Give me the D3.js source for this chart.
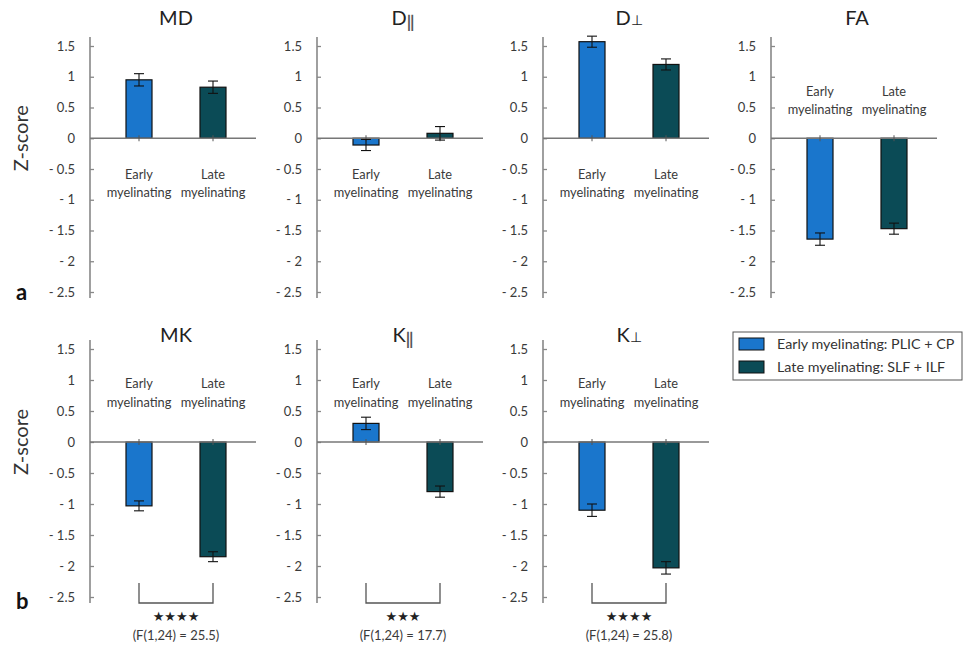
<!DOCTYPE html>
<html>
<head>
<meta charset="utf-8">
<script src="https://cdn.jsdelivr.net/npm/d3@7"></script>
<style>
  body { margin: 0; background: #fff; }
  svg text { font-family: Lato, "Open Sans", sans-serif; }
</style>
</head>
<body>
<svg id="chart" width="971" height="646"></svg>
<script>
// data
const panelTitles = [["MD", ""], ["D", "‖"], ["D", "⊥"], ["FA", ""], ["MK", ""], ["K", "‖"], ["K", "⊥"]];
const categories = ["Early", "Late"];
const earlyValues = [0.95, -0.11, 1.57, -1.64, -1.03, 0.30, -1.10];
const earlyErrors = [0.10, 0.09, 0.09, 0.10, 0.08, 0.10, 0.10];
const lateValues = [0.83, 0.08, 1.20, -1.47, -1.85, -0.80, -2.03];
const lateErrors = [0.10, 0.11, 0.09, 0.09, 0.08, 0.09, 0.10];
const yTicks = [1.5, 1, 0.5, 0, -0.5, -1, -1.5, -2, -2.5];
const stars = [null, null, null, null, "★★★★", "★★★", "★★★★"];
const fStats = [null, null, null, null, "(F(1,24) = 25.5)", "(F(1,24) = 17.7)", "(F(1,24) = 25.8)"];
const legendLabels = ["Early myelinating: PLIC + CP", "Late myelinating: SLF + ILF"];

const colors = { Early: "#1a76cc", Late: "#0b4b56" };

const svg = d3.select("#chart");

// layout
const axisX = [90, 317, 543, 771];
const rows = [
  { top: 46, bottom: 292, titleY: 25, labelAbove: [-42, -24] },
  { top: 349, bottom: 597, titleY: 342, labelAbove: [-54, -35] }
];
const panelWidth = 166;
const barWidth = 26;

panelTitles.forEach(function (title, i) {
  const row = rows[i < 4 ? 0 : 1];
  const x0 = axisX[i % 4];
  const g = svg.append("g").attr("transform", "translate(" + x0 + ",0)");

  const y = d3.scaleLinear().domain([-2.5, 1.5]).range([row.bottom, row.top]);
  const x = d3.scalePoint().domain(categories).range([49, 123]);

  // y axis
  const axis = d3.axisLeft(y)
    .tickValues(yTicks)
    .tickSizeInner(-4)
    .tickSizeOuter(0)
    .tickPadding(15)
    .tickFormat(function (d) { return d < 0 ? "- " + Math.abs(d) : d; });
  const ag = g.append("g").call(axis);
  ag.select(".domain").remove();
  ag.selectAll(".tick line").attr("stroke", "#888").attr("stroke-width", 1.3);
  ag.selectAll(".tick text")
    .attr("fill", "#3a3a3a")
    .style("font-size", "13px")
    .style("font-family", "Lato, sans-serif");
  g.append("line")
    .attr("x1", 0).attr("x2", 0)
    .attr("y1", y(1.5) - 9).attr("y2", y(-2.5) + 6)
    .attr("stroke", "#888").attr("stroke-width", 1.6);

  const vals = [earlyValues[i], lateValues[i]];
  const errs = [earlyErrors[i], lateErrors[i]];
  const data = categories.map(function (c, k) { return { cat: c, v: vals[k], e: errs[k] }; });

  // bars
  g.selectAll("rect.bar").data(data).enter().append("rect")
    .attr("class", "bar")
    .attr("x", function (d) { return x(d.cat) - barWidth / 2; })
    .attr("y", function (d) { return y(Math.max(0, d.v)); })
    .attr("width", barWidth)
    .attr("height", function (d) { return Math.abs(y(d.v) - y(0)); })
    .attr("fill", function (d) { return colors[d.cat]; })
    .attr("stroke", "#111")
    .attr("stroke-width", 1.2);

  // zero line
  g.append("line")
    .attr("x1", 0).attr("x2", panelWidth)
    .attr("y1", y(0)).attr("y2", y(0))
    .attr("stroke", "#777").attr("stroke-width", 1.5);

  // small category ticks on zero line
  g.selectAll("line.ctick").data(data).enter().append("line")
    .attr("x1", function (d) { return x(d.cat); })
    .attr("x2", function (d) { return x(d.cat); })
    .attr("y1", y(0) - 3).attr("y2", y(0) + 3)
    .attr("stroke", "#555").attr("stroke-width", 1);

  // error bars
  data.forEach(function (d) {
    const cx = x(d.cat);
    g.append("line")
      .attr("x1", cx).attr("x2", cx)
      .attr("y1", y(d.v + d.e)).attr("y2", y(d.v - d.e))
      .attr("stroke", "#111").attr("stroke-width", 1.1);
    [d.v + d.e, d.v - d.e].forEach(function (v) {
      g.append("line")
        .attr("x1", cx - 5).attr("x2", cx + 5)
        .attr("y1", y(v)).attr("y2", y(v))
        .attr("stroke", "#111").attr("stroke-width", 1.1);
    });
  });

  // category labels
  const above = earlyValues[i] < 0 && lateValues[i] <= 0.05 || i >= 4;
  data.forEach(function (d) {
    const t = g.append("text")
      .attr("text-anchor", "middle")
      .attr("fill", "#3a3a3a")
      .style("font-size", "12.8px");
    const off = above ? row.labelAbove : [41, 59];
    t.append("tspan").attr("x", x(d.cat)).attr("y", y(0) + off[0]).text(d.cat);
    t.append("tspan").attr("x", x(d.cat)).attr("y", y(0) + off[1]).text("myelinating");
  });

  // title
  const tt = g.append("text")
    .attr("x", 86).attr("y", row.titleY)
    .attr("text-anchor", "middle")
    .attr("fill", "#222")
    .style("font-size", "20px");
  tt.append("tspan").text(title[0]);
  if (title[1]) {
    tt.append("tspan")
      .attr("dy", title[1] === "‖" ? 3 : 0)
      .style("font-size", title[1] === "‖" ? "17px" : "14px")
      .style("font-weight", title[1] === "‖" ? "bold" : "normal")
      .attr("fill", title[1] === "‖" ? "#555" : "#222")
      .text(title[1]);
  }

  // significance bracket
  if (stars[i]) {
    const bx1 = x("Early"), bx2 = x("Late");
    g.append("path")
      .attr("d", "M" + bx1 + "," + 583 + "V" + 603 + "H" + bx2 + "V" + 583)
      .attr("fill", "none")
      .attr("stroke", "#555").attr("stroke-width", 1.3);
    g.append("text")
      .attr("x", 86).attr("y", 621)
      .attr("text-anchor", "middle")
      .attr("fill", "#222")
      .style("font-family", "DejaVu Sans, sans-serif")
      .style("font-size", "13px")
      .text(stars[i]);
    g.append("text")
      .attr("x", 86).attr("y", 640)
      .attr("text-anchor", "middle")
      .attr("fill", "#3a3a3a")
      .style("font-size", "13px")
      .text(fStats[i]);
  }
});

// Z-score labels
rows.forEach(function (row) {
  const y = d3.scaleLinear().domain([-2.5, 1.5]).range([row.bottom, row.top]);
  svg.append("text")
    .attr("transform", "translate(28," + y(0) + ") rotate(-90)")
    .attr("text-anchor", "middle")
    .attr("fill", "#333")
    .style("font-size", "20px")
    .text("Z-score");
});

// panel letters
svg.append("text").attr("x", 16).attr("y", 300)
  .style("font-size", "22px").style("font-weight", "bold").attr("fill", "#111").text("a");
svg.append("text").attr("x", 16).attr("y", 609)
  .style("font-size", "22px").style("font-weight", "bold").attr("fill", "#111").text("b");

// legend
const lg = svg.append("g").attr("transform", "translate(733,332)");
lg.append("rect").attr("width", 229).attr("height", 48)
  .attr("fill", "#fff").attr("stroke", "#555").attr("stroke-width", 1);
legendLabels.forEach(function (lab, k) {
  lg.append("rect")
    .attr("x", 6).attr("y", 6 + k * 23)
    .attr("width", 25).attr("height", 12)
    .attr("fill", colors[categories[k]])
    .attr("stroke", "#111").attr("stroke-width", 1);
  lg.append("text")
    .attr("x", 44).attr("y", 17 + k * 23)
    .attr("fill", "#333")
    .style("font-size", "14.3px")
    .text(lab);
});
</script>
</body>
</html>
